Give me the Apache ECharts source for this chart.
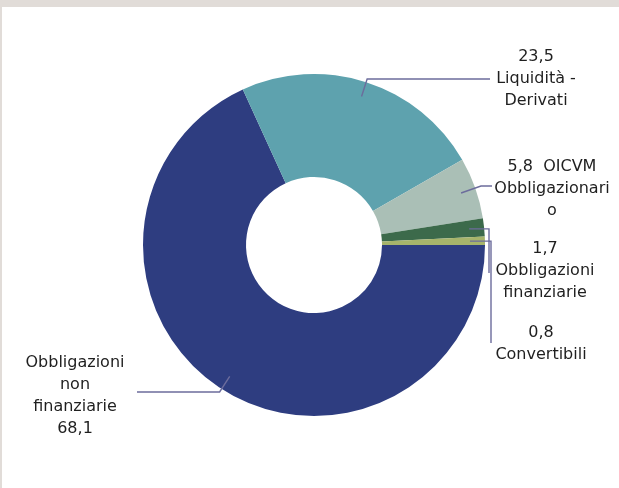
<!DOCTYPE html>
<html>
<head>
<meta charset="utf-8">
<script src="https://cdn.jsdelivr.net/npm/echarts@6/dist/echarts.min.js"></script>
<style>
html,body{margin:0;padding:0;background:#fff;}
#chart{width:619px;height:488px;}
</style>
</head>
<body>
<div id="chart"></div>
<script>
// ---- data ----
const categories = ['Obbligazioni non finanziarie', 'Liquidità - Derivati', 'OICVM Obbligazionario', 'Obbligazioni finanziarie', 'Convertibili'];
const values = [68.1, 23.5, 5.8, 1.7, 0.8];
const labelTemplates = [
  'Obbligazioni\nnon\nfinanziarie\n{v}',
  '{v}\nLiquidità -\nDerivati',
  '{v}  OICVM\nObbligazionari\no',
  '{v}\nObbligazioni\nfinanziarie',
  '{v}\nConvertibili'
];
const colors = ['#2E3D80', '#5EA2AE', '#AABFB6', '#3C6A4B', '#A6B46B'];

// ---- layout (styles / positions, not data) ----
const CX = 314, CY = 245, R_IN = 68, R_OUT = 171;
const labelPlacement = [
  { x: 75,  y: 396, lineX: 137, lineY: 392, type: 'ray' },
  { x: 536, y: 79,  lineX: 490, lineY: 79,  type: 'ray' },
  { x: 552, y: 189, lineX: 492, lineY: 186, type: 'ray' },
  { x: 545, y: 271, lineX: 489, lineY: 273, type: 'drop' },
  { x: 541, y: 344, lineX: 491, lineY: 343, type: 'drop' }
];

const total = values.reduce((a, b) => a + b, 0);
function midAngle(i) {
  let before = 0;
  for (let k = 0; k < i; k++) before += values[k];
  return ((before + values[i] / 2) / total) * 2 * Math.PI; // clockwise from east
}

const pieData = categories.map((c, i) => ({ name: c, value: values[i] }));

const chart = echarts.init(document.getElementById('chart'), null, { renderer: 'canvas' });
const option = {
  backgroundColor: '#ffffff',
  animation: false,
  graphic: [
    { type: 'rect', shape: { x: 0, y: 0, width: 619, height: 7 }, style: { fill: '#E1DCD8' }, silent: true },
    { type: 'rect', shape: { x: 0, y: 0, width: 2, height: 488 }, style: { fill: '#E1DCD8' }, silent: true }
  ],
  series: [{
    type: 'pie',
    z: 2,
    center: [CX, CY],
    radius: [R_IN, R_OUT],
    startAngle: 0,
    clockwise: true,
    silent: true,
    data: pieData.map((d, i) => Object.assign({}, d, { itemStyle: { color: colors[i] } })),
    label: { show: false },
    labelLine: { show: false }
  }, {
    type: 'pie',
    z: 5,
    center: [CX, CY],
    radius: [R_IN, R_OUT],
    startAngle: 0,
    clockwise: true,
    avoidLabelOverlap: false,
    silent: true,
    data: pieData,
    itemStyle: { color: 'rgba(0,0,0,0)' },
    label: {
      show: true,
      position: 'outside',
      fontFamily: 'DejaVu Sans',
      fontSize: 16,
      lineHeight: 22,
      color: '#1f1f1f',
      align: 'center',
      formatter: p => labelTemplates[p.dataIndex].replace('{v}', String(p.value).replace('.', ','))
    },
    labelLine: {
      show: true,
      length: 10,
      length2: 10,
      lineStyle: { color: '#6C6C9C', width: 1.4 }
    },
    labelLayout: function (params) {
      const i = params.dataIndex;
      const pl = labelPlacement[i];
      const a = midAngle(i);
      const dx = Math.cos(a), dy = Math.sin(a);
      const start = [CX + (R_OUT - 15) * dx, CY + (R_OUT - 15) * dy];
      let pts;
      if (pl.type === 'ray') {
        const t = (pl.lineY - CY) / dy;
        const elbow = [CX + t * dx, pl.lineY];
        pts = [start, elbow, [pl.lineX, pl.lineY]];
      } else {
        pts = [start, [pl.lineX, start[1]], [pl.lineX, pl.lineY]];
      }
      return {
        x: pl.x,
        y: pl.y,
        align: 'center',
        verticalAlign: 'middle',
        labelLinePoints: pts
      };
    }
  }]
};
chart.setOption(option);
</script>
</body>
</html>
